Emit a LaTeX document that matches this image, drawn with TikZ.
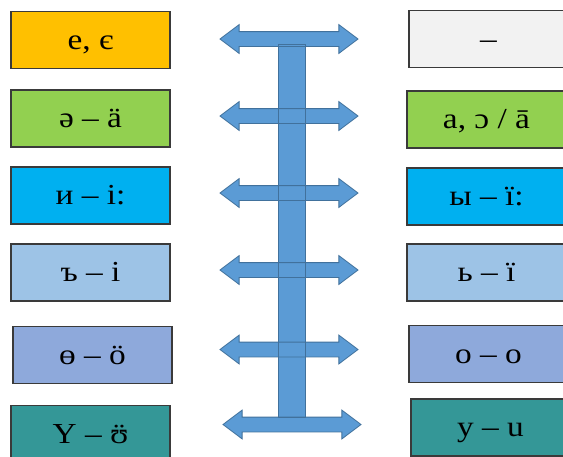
\documentclass[tikz,border=0pt]{standalone}
\usepackage{fontspec}
\setmainfont[FakeStretch=1.15]{Liberation Serif}
\usetikzlibrary{positioning,shapes.arrows}

\definecolor{boxline}{HTML}{3A3A3A}
\definecolor{arrowfill}{HTML}{5B9BD5}
\definecolor{arrowline}{HTML}{41719C}
\definecolor{cOrange}{HTML}{FFC000}
\definecolor{cGreen}{HTML}{92D050}
\definecolor{cCyan}{HTML}{00B0F0}
\definecolor{cSky}{HTML}{9DC3E6}
\definecolor{cLilac}{HTML}{8EA9DB}
\definecolor{cTeal}{HTML}{349797}
\definecolor{cGrey}{HTML}{F2F2F2}

\begin{document}
\begin{tikzpicture}[x=1pt, y=-1pt,
    letterbox/.style={rectangle, draw=boxline, line width=1.2pt, minimum width=159pt, minimum height=57pt, inner sep=0pt, text height=18pt, text depth=0pt, font=\fontsize{29}{33}\selectfont},
    dblarrow/.style={double arrow, draw=arrowline, fill=arrowfill, line width=0.8pt, minimum height=138pt, inner xsep=0pt, inner ysep=7pt, double arrow head extend=7pt, double arrow head indent=0pt, double arrow tip angle=74},
    spine/.style={rectangle, fill=arrowfill, minimum width=26pt, minimum height=372pt, inner sep=0pt}]
    \useasboundingbox (0,0) rectangle (563,456);

    % left column
    \node [letterbox, fill=cOrange] (l1) at (90.5,40) {е, є};
    \node [letterbox, fill=cGreen] (l2) at (90.5,118.5) {ә – ä};
    \node [letterbox, fill=cCyan] (l3) at (90.5,195.5) {и – i:};
    \node [letterbox, fill=cSky] (l4) at (90.5,272.5) {ъ – i};
    \node [letterbox, fill=cLilac] (l5) at (92.5,355) {ө – ö};
    \node [letterbox, fill=cTeal] (l6) at (90.5,434) {Ү – \accent"A8 ʊ};

    % right column
    \node [letterbox, fill=cGrey] (r1) at (488.5,39) {–};
    \node [letterbox, fill=cGreen] (r2) at (486.5,119.5) {а, ɔ / ā};
    \node [letterbox, fill=cCyan] (r3) at (486.5,196.5) {ы – ï:};
    \node [letterbox, fill=cSky] (r4) at (486.5,272.5) {ь – ï};
    \node [letterbox, fill=cLilac] (r5) at (488.5,354) {о – o};
    \node [letterbox, fill=cTeal] (r6) at (490.5,427.5) {у – u};

    % arrows
    \node [spine] (bar) at (292,231) {};
    \node [dblarrow] (a1) at (289,39) {};
    \node [dblarrow] (a2) at (289,116) {};
    \node [dblarrow] (a3) at (289,193) {};
    \node [dblarrow] (a4) at (289,270) {};
    \node [dblarrow] (a5) at (289,349.5) {};
    \node [dblarrow] (a6) at (292,424.5) {};
    \draw [arrowline, line width=0.8pt] (bar.north west) rectangle (bar.south east);
\end{tikzpicture}
\end{document}
